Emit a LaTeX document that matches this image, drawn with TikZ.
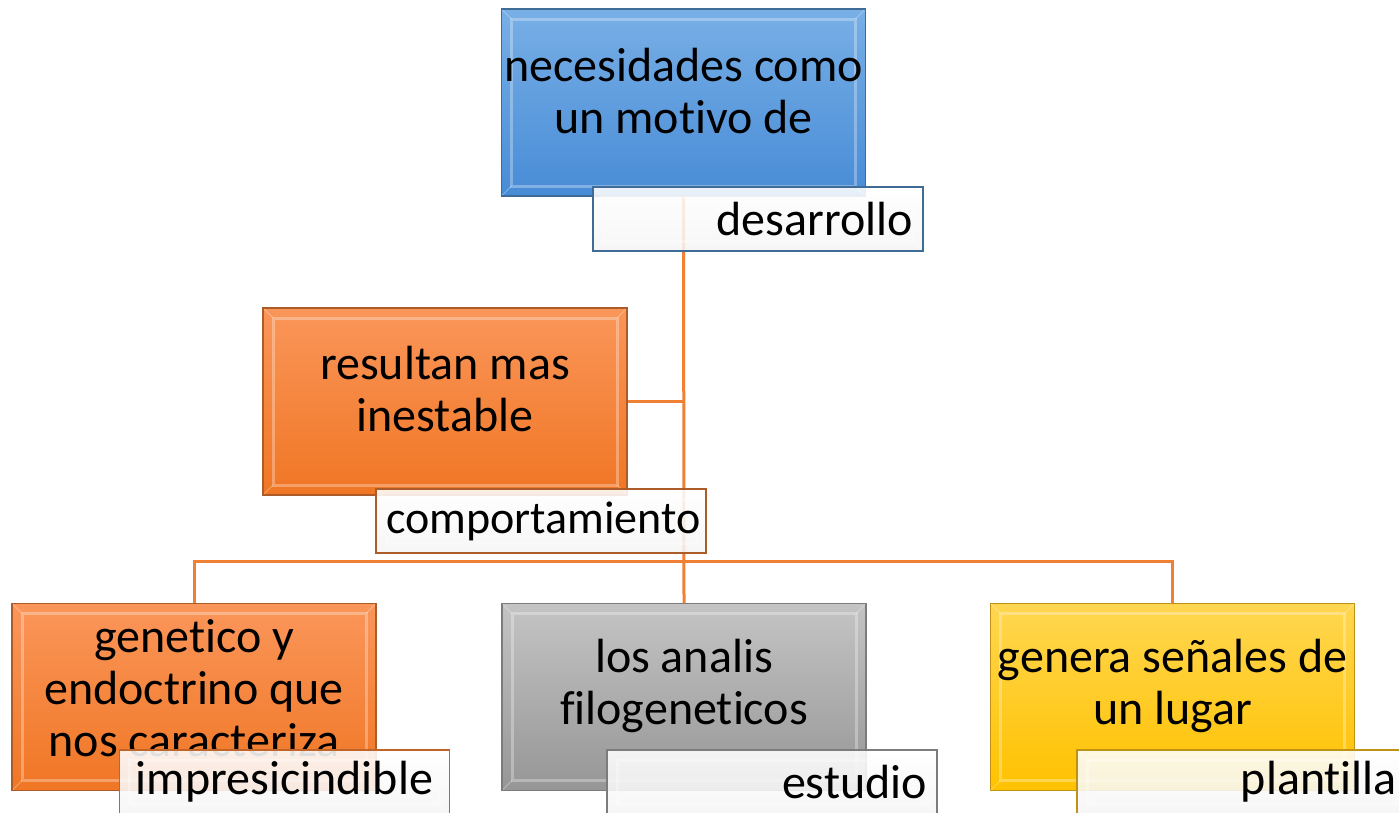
\documentclass[tikz,border=0pt]{standalone}
\usepackage{fontspec}
\setmainfont[Ligatures=NoCommon]{Carlito}
\usetikzlibrary{backgrounds}
% colours of the boxes
\definecolor{blueTop}{RGB}{120,175,230}
\definecolor{blueBot}{RGB}{72,140,214}
\definecolor{blueEdge}{RGB}{62,108,150}
\definecolor{orangeTop}{RGB}{250,150,90}
\definecolor{orangeBot}{RGB}{240,118,36}
\definecolor{orangeEdge}{RGB}{172,92,40}
\definecolor{grayTop}{RGB}{196,196,196}
\definecolor{grayBot}{RGB}{150,150,150}
\definecolor{grayEdge}{RGB}{124,124,124}
\definecolor{yellowTop}{RGB}{255,214,80}
\definecolor{yellowBot}{RGB}{255,194,0}
\definecolor{yellowEdge}{RGB}{190,146,20}
\definecolor{linkcol}{RGB}{240,128,52}
\begin{document}
\begin{tikzpicture}[x=1pt,y=-1pt,
    bevel/.style={path picture={
        \draw[white,opacity=.3,line width=3pt]
          ([shift={(10pt,-10pt)}]path picture bounding box.north west) rectangle
          ([shift={(-10pt,10pt)}]path picture bounding box.south east);
        \draw[white,opacity=.3,line width=1pt]
          (path picture bounding box.north west) -- ++(10pt,-10pt)
          (path picture bounding box.north east) -- ++(-10pt,-10pt)
          (path picture bounding box.south west) -- ++(10pt,10pt)
          (path picture bounding box.south east) -- ++(-10pt,10pt);}},
    mainbox/.style={draw=#1Edge,line width=1.5pt,top color=#1Top,bottom color=#1Bot,
        minimum width=364pt,minimum height=187pt,bevel},
    maintxt/.style={font=\fontsize{48}{52}\selectfont,align=center,inner sep=0pt},
    labelbox/.style={draw=#1,line width=1.5pt,top color=white,bottom color=black!4,
        fill opacity=.88,text opacity=1,minimum height=64pt,inner xsep=10pt,
        text width=310pt,font=\fontsize{48}{52}\selectfont,bevel},
    conn/.style={draw=linkcol,line width=3pt}]
\useasboundingbox (0,0) rectangle (1399,812);
% main boxes
\node[mainbox=blue] (necesidades) at (683.5,102.5) {};
\node[maintxt] (necesidades-t) at ([yshift=11pt]necesidades.center) {necesidades como\\un motivo de};
\node[mainbox=orange] (resultan) at (445,401.5) {};
\node[maintxt] (resultan-t) at ([yshift=12pt]resultan.center) {resultan mas\\inestable};
\node[mainbox=orange] (genetico) at (194,697) {};
\node[maintxt] (genetico-t) at ([yshift=9pt]genetico.center) {genetico y\\endoctrino que\\nos caracteriza};
\node[mainbox=gray] (analis) at (684,697) {};
\node[maintxt] (analis-t) at ([yshift=11pt]analis.center) {los analis\\filogeneticos};
\node[mainbox=yellow] (lugar) at (1172.5,697) {};
\node[maintxt] (lugar-t) at ([yshift=11pt]lugar.center) {genera señales de\\un lugar};
% label boxes
\node[labelbox=blueEdge,align=right] (desarrollo) at (758,219) {desarrollo};
\node[labelbox=orangeEdge,align=left,font=\fontsize{46}{52}\selectfont] (comportamiento) at (541,521) {comportamiento};
\node[labelbox=orangeEdge!70!orangeBot,align=center] (impresicindible) at (284.5,782) {impresicindible};
\node[labelbox=grayEdge,align=right] (estudio) at (772,782) {estudio};
\node[labelbox=yellowEdge,align=right] (plantilla) at (1242,782) {plantilla};
% connectors
\coordinate (bus) at (683.5,561);
\begin{scope}[on background layer]
\draw[conn] (necesidades.south) -- (analis.north);
\draw[conn] (resultan.east) -- (resultan.east -| necesidades.south);
\draw[conn] (genetico.north) |- (bus) -| (lugar.north);
\end{scope}
\end{tikzpicture}
\end{document}
